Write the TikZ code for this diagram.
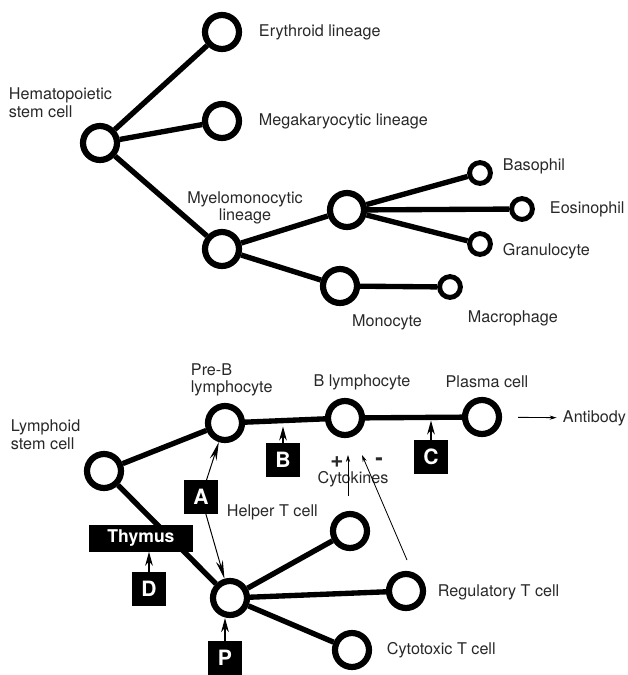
\documentclass[tikz,border=0pt]{standalone}
\usepackage{fontspec}
\setmainfont{TeX Gyre Heros}
\usetikzlibrary{arrows.meta,positioning,calc}
\definecolor{LabelColor}{RGB}{40,40,40}

\begin{document}
\begin{tikzpicture}[every node/.style={font=\fontsize{11.5}{12.5}\selectfont,text=LabelColor,align=left},
  cell/.style={circle,draw,fill=white,line width=4.4pt,minimum size=0.85cm,inner sep=0pt},
  smallcell/.style={circle,draw,fill=white,line width=3.5pt,minimum size=0.52cm,inner sep=0pt},
  link/.style={line width=3.8pt},
  tag/.style={fill=black,text=white,font=\fontsize{15}{15}\selectfont\bfseries,minimum size=0.83cm,inner sep=0pt},
  sign/.style={font=\fontsize{16}{16}\selectfont\bfseries,inner sep=0pt},
  ptr/.style={line width=0.8pt,-{Stealth[length=10pt,width=5.5pt]}},
  arr/.style={line width=0.6pt,-{Stealth[length=5pt,width=3pt]}}]
\useasboundingbox (0,0) rectangle (15.7,-16.875);
% myeloid branch
\node[cell] (hsc) at (2.5,-3.575) {};
\node[cell] (ery) at (5.55,-0.8) {};
\node[cell] (mega) at (5.55,-3.025) {};
\node[cell] (myelo) at (5.55,-6.225) {};
\node[cell] (gmp) at (8.675,-5.25) {};
\node[cell] (mono) at (8.5,-7.15) {};
\node[smallcell] (baso) at (12.0,-4.325) {};
\node[smallcell] (eos) at (13.05,-5.225) {};
\node[smallcell] (gran) at (12.0,-6.1) {};
\node[smallcell] (macro) at (11.25,-7.175) {};
\foreach \a/\b in {hsc/ery,hsc/mega,hsc/myelo,myelo/gmp,myelo/mono,gmp/baso,gmp/eos,gmp/gran,mono/macro}
  \draw[link] (\a) -- (\b);
\node[anchor=west] at (0.1,-2.575) {Hematopoietic\\stem cell};
\node[anchor=west] at (6.35,-0.8) {Erythroid lineage};
\node[anchor=west] at (6.35,-3.025) {Megakaryocytic lineage};
\node[align=center] at (6.125,-5.2) {Myelomonocytic\\lineage};
\node[anchor=west] at (12.45,-4.15) {Basophil};
\node[anchor=west] at (13.625,-5.225) {Eosinophil};
\node[anchor=west] at (12.45,-6.275) {Granulocyte};
\node at (9.675,-8.05) {Monocyte};
\node[anchor=west] at (11.575,-7.95) {Macrophage};
% lymphoid branch
\node[cell] (lsc) at (2.6,-11.775) {};
\node[cell] (preb) at (5.625,-10.575) {};
\node[cell] (blym) at (8.625,-10.45) {};
\node[cell] (plasma) at (12.05,-10.425) {};
\node[cell] (tpre) at (5.75,-14.95) {};
\node[cell] (helper) at (8.75,-13.275) {};
\node[cell] (treg) at (10.15,-14.775) {};
\node[cell] (ctl) at (8.8,-16.25) {};
\foreach \a/\b in {lsc/preb,lsc/tpre,preb/blym,blym/plasma,tpre/helper,tpre/treg,tpre/ctl}
  \draw[link] (\a) -- (\b);
\node[anchor=west] at (0.15,-10.875) {Lymphoid\\stem cell};
\node[anchor=west] at (4.65,-9.5) {Pre-B\\lymphocyte};
\node at (9.05,-9.55) {B lymphocyte};
\node at (12.175,-9.55) {Plasma cell};
\node[anchor=west] (ab) at (13.95,-10.45) {Antibody};
\node[anchor=west] at (5.55,-12.8) {Helper T cell};
\node[anchor=west] at (10.825,-14.8) {Regulatory T cell};
\node[anchor=west] at (9.55,-16.25) {Cytotoxic T cell};
\draw[arr,shorten <=0.4cm,shorten >=1pt] (plasma) -- (ab);
% cytokine signals
\node (cyto) at (8.825,-11.975) {Cytokines};
\node[sign] at (8.425,-11.55) {+};
\node[sign] at (9.475,-11.55) {-};
\coordinate (upH) at (8.7,-12.4);
\coordinate (upR) at (10.175,-14.0);
\draw[arr] (upH) -- (8.7,-11.375);
\draw[arr] (upR) -- (9.05,-11.375);
% control points
\node[tag] (tagA) at (5.025,-12.425) {A};
\node[tag] (tagB) at (7.075,-11.5) {B};
\node[tag] (tagC) at (10.775,-11.425) {C};
\node[tag,minimum width=2.6cm,minimum height=0.675cm,font=\fontsize{12.5}{12.5}\selectfont\bfseries] (thy) at (3.525,-13.45) {Thymus};
\node[tag] (tagD) at (3.725,-14.725) {D};
\node[tag] (tagP) at (5.625,-16.45) {P};
\draw[line width=0.7pt,-{Stealth[length=13pt,width=5pt]}] (tagA) -- (preb);
\draw[line width=0.7pt,-{Stealth[length=13pt,width=5pt]}] (tagA) -- (tpre);
\draw[ptr,shorten >=2.5pt] (tagB.north) -- (tagB.north |- preb.center);
\draw[ptr,shorten >=2.5pt] (tagC.north) -- (tagC.north |- plasma.center);
\draw[ptr] (tagD.north) -- (thy.south -| tagD.north);
\draw[ptr] (tagP.north) -- (tagP.north |- tpre.south);
\end{tikzpicture}
\end{document}
